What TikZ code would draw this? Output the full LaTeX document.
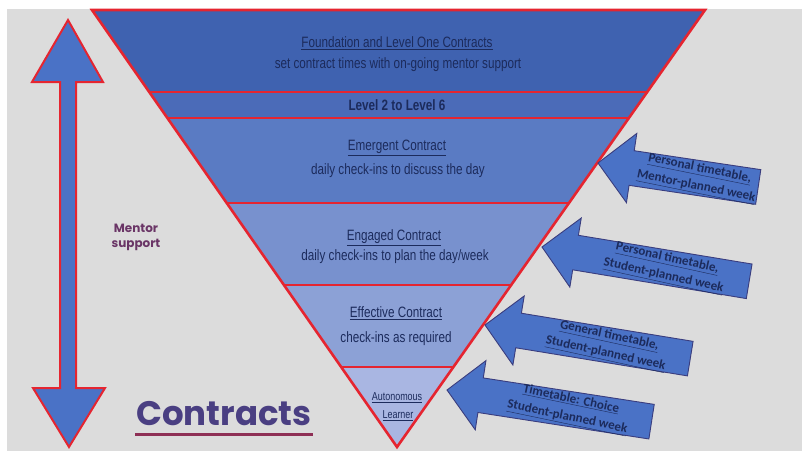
\documentclass[tikz,border=0pt]{standalone}
\usepackage{fontspec}
\usetikzlibrary{calc}
\setmainfont{Liberation Sans}
\newfontfamily\bandfont[FakeStretch=0.78]{Liberation Sans}
\newfontfamily\arrowfont{Carlito}
\newfontfamily\titlefont{Poppins}

\definecolor{paper}{HTML}{DCDCDC}
\definecolor{edge}{HTML}{E52530}
\definecolor{bandA}{HTML}{3F62B0}
\definecolor{bandB}{HTML}{4B6BB8}
\definecolor{bandC}{HTML}{5A7BC3}
\definecolor{bandD}{HTML}{7891CE}
\definecolor{bandE}{HTML}{8CA1D6}
\definecolor{bandF}{HTML}{A9B6E2}
\definecolor{navy}{HTML}{1C2B5C}
\definecolor{arrowblue}{HTML}{4A72C6}
\definecolor{arrowline}{HTML}{3A3D7E}
\definecolor{plum}{HTML}{6A3566}
\definecolor{slate}{HTML}{4A3F82}
\definecolor{maroon}{HTML}{8E2F55}

\tikzset{
  redline/.style={draw=edge, line width=2.6pt},
  bandtext/.style={text=navy, font=\bandfont\fontsize{15}{17}\selectfont, inner sep=0pt},
  smalltext/.style={text=navy, font=\bandfont\fontsize{11.5}{13}\selectfont, inner sep=0pt},
  blockarrow/.style={fill=arrowblue, draw=arrowline, line width=0.9pt, line join=miter},
  arrowtext/.style={text=navy, font=\arrowfont\bfseries\fontsize{13}{18}\selectfont,
    align=center, inner sep=0pt, transform shape, rotate=-3},
  sidearrow/.style={fill=arrowblue, draw=edge, line width=2pt, line join=miter}
}

% block arrow pointing left: #1 tip, #2 rotation, #3 length, #4 label name, #5 label
\newcommand{\blockarr}[5]{%
  \begin{scope}[shift={#1}, rotate=#2]
    \draw[blockarrow] (0,0) -- (34,-35) -- (34,-17.5) -- (#3,-17.5)
      -- (#3,17.5) -- (34,17.5) -- (34,35) -- cycle;
    \node[arrowtext] (#4) at ({(34+#3)/2+3},0) {#5};
  \end{scope}}

\begin{document}
\begin{tikzpicture}[x=1pt, y=-1pt]
\useasboundingbox (0,0) rectangle (802,451);
\fill[paper] (7,9) rectangle (802,451);

% inverted triangle and its bands
\coordinate (TL) at (92,10);
\coordinate (TR) at (705,10);
\coordinate (AP) at (397,447);
\foreach \t/\n in {0.1876/1, 0.2471/2, 0.4416/3, 0.6293/4, 0.8169/5} {
  \coordinate (L\n) at ($(TL)!\t!(AP)$);
  \coordinate (R\n) at ($(TR)!\t!(AP)$);
}
\fill[bandA] (TL) -- (TR) -- (R1) -- (L1) -- cycle;
\fill[bandB] (L1) -- (R1) -- (R2) -- (L2) -- cycle;
\fill[bandC] (L2) -- (R2) -- (R3) -- (L3) -- cycle;
\fill[bandD] (L3) -- (R3) -- (R4) -- (L4) -- cycle;
\fill[bandE] (L4) -- (R4) -- (R5) -- (L5) -- cycle;
\fill[bandF] (L5) -- (R5) -- (AP) -- cycle;
\foreach \n in {1,...,5} { \draw[redline] (L\n) -- (R\n); }
\draw[redline, line join=miter] (TL) -- (TR) -- (AP) -- cycle;

% band labels
\node[bandtext] (foundation) at (397,43) {\underline{Foundation and Level One Contracts}};
\node[bandtext] (foundsub) at (398,65) {set contract times with on-going mentor support};
\node[bandtext, font=\bandfont\bfseries\fontsize{15}{17}\selectfont] (levels) at (397,105) {Level 2 to Level 6};
\node[bandtext] (emergent) at (397,148) {\underline{Emergent Contract}};
\node[bandtext] (emergsub) at (398,171) {daily check-ins to discuss the day};
\node[bandtext] (engaged) at (394,238) {\underline{Engaged Contract}};
\node[bandtext] (engsub) at (395,257) {daily check-ins to plan the day/week};
\node[bandtext] (effective) at (396,313) {\underline{Effective Contract}};
\node[bandtext] (effsub) at (396,339) {check-ins as required};
\node[smalltext] (auto) at (397,398) {\underline{Autonomous}};
\node[smalltext] (learner) at (398,416) {\underline{Learner}};

% mentor support double arrow
\draw[sidearrow] (68,20) -- (103,82) -- (76,82) -- (76,388) -- (105,388) -- (69,447)
  -- (33,388) -- (60,388) -- (60,82) -- (32,82) -- cycle;
\node[text=plum, font=\titlefont\bfseries\fontsize{12}{15}\selectfont, align=center, inner sep=0pt]
  (mentor) at (136,237) {Mentor\\support};

% title
\node[text=slate, font=\titlefont\bfseries\fontsize{34}{38}\selectfont, inner sep=0pt,
  anchor=base] (title) at (224,425) {Contracts};
\draw[maroon, line width=3pt] (135,434) -- (313,434);

% timetable arrows
\blockarr{(598,163)}{-8.5}{162}{tt1}{\underline{Personal timetable,}\\\underline{Mentor-planned week}}
\blockarr{(542,247)}{-9.4}{210}{tt2}{\underline{Personal timetable,}\\\underline{Student-planned week}}
\blockarr{(485,325)}{-9.3}{208}{tt3}{\underline{General timetable,}\\\underline{Student-planned week}}
\blockarr{(447,390)}{-8.8}{207}{tt4}{\underline{Timetable: Choice}\\\underline{Student-planned week}}
\end{tikzpicture}
\end{document}
